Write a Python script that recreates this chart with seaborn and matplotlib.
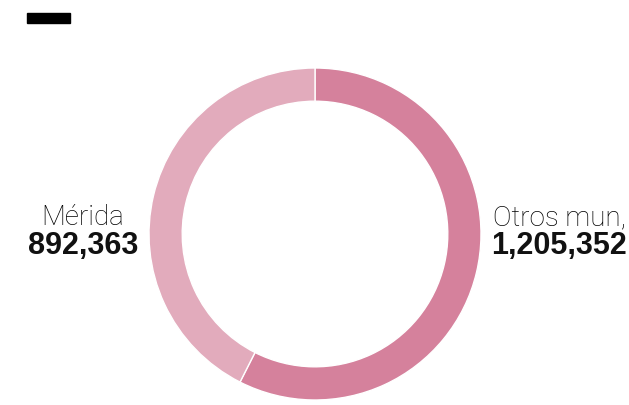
import seaborn as sns
import matplotlib.pyplot as plt
from matplotlib.patches import Rectangle

# data
labels = ['Otros mun,', 'Mérida']
values = [1205352, 892363]
colors = ['#d5819c', '#e2abbc']

W, H = 629, 406

sns.set_style('white')
plt.rcParams['font.family'] = ['Liberation Sans', 'DejaVu Sans']

fig = plt.figure(figsize=(W / 100, H / 100), dpi=100)

# donut axes: centre (315, 235) px, outer radius ~166 px
cx, cy, r = 315, 235, 166
ax = fig.add_axes([(cx - r) / W, (H - cy - r) / H, 2 * r / W, 2 * r / H])
ax.pie(values, colors=colors, startangle=90, counterclock=False, radius=1,
       wedgeprops=dict(width=0.2, edgecolor='white', linewidth=1))
ax.set_xlim(-1, 1)
ax.set_ylim(-1, 1)
ax.set_aspect('equal')
ax.axis('off')

# small black bar in the top-left corner
fig.patches.append(Rectangle((27 / W, 1 - 24 / H), 43 / W, 10 / H,
                             transform=fig.transFigure, color='black'))

def label(x, name, value):
    fig.text(x / W, 1 - 225.5 / H, name, ha='center', va='baseline', fontsize=20,
             family=['Roboto', 'DejaVu Sans'], fontweight='light', color='#000000')
    fig.text(x / W, 1 - 254 / H, f'{value:,}', ha='center', va='baseline',
             fontsize=22, fontweight='bold', color='#111111')

label(83, labels[1], values[1])
label(559, labels[0], values[0])

fig.savefig('out.png', dpi=100)
